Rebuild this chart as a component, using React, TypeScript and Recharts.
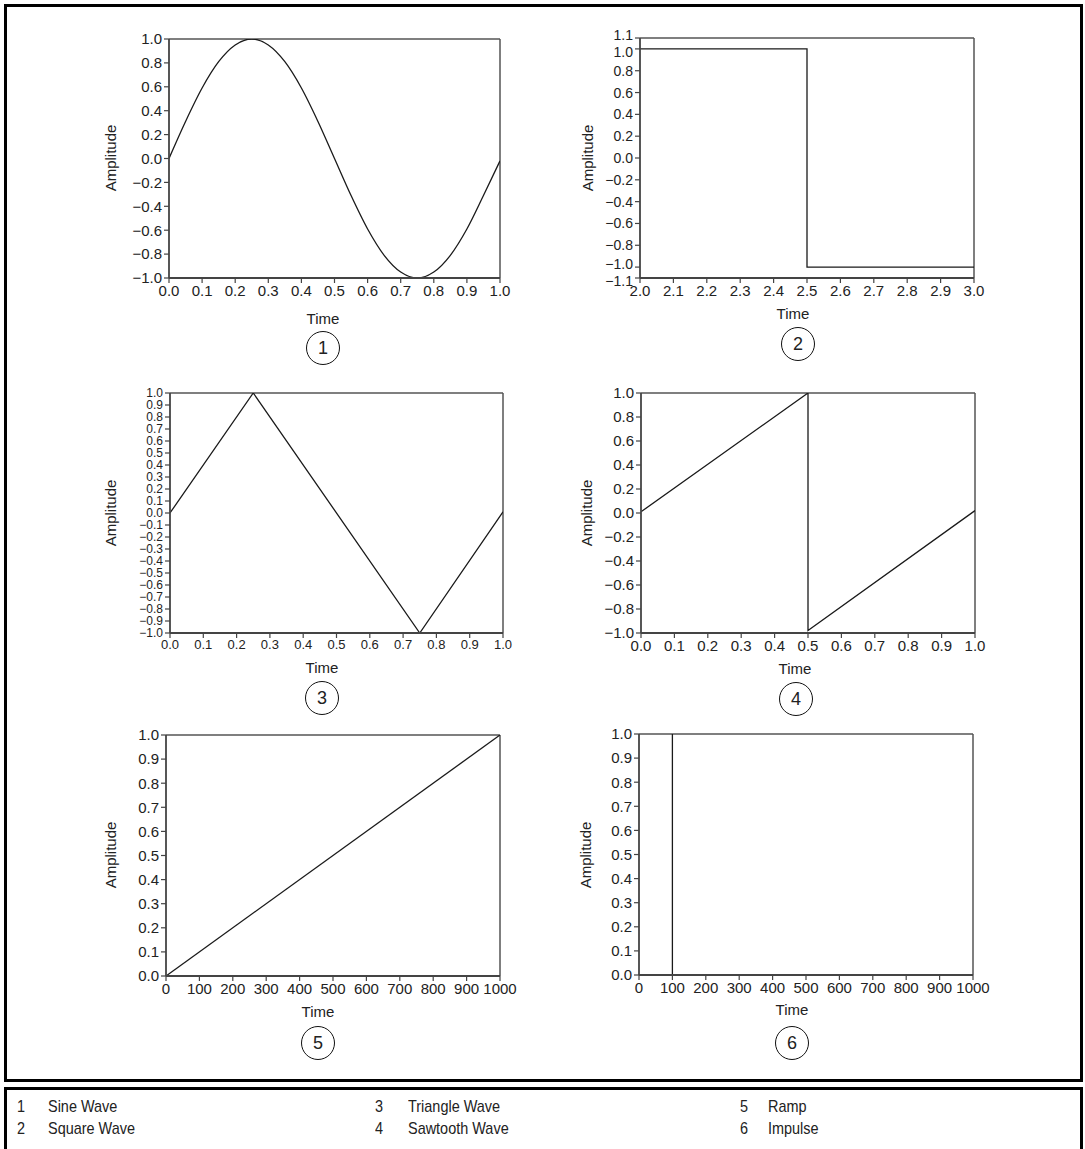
import { LineChart, Line, XAxis, YAxis, ReferenceLine } from "recharts";

// ---- data ----
const sineTime = [0, 0.05, 0.1, 0.15, 0.2, 0.25, 0.3, 0.35, 0.4, 0.45, 0.5, 0.55, 0.6, 0.65, 0.7, 0.75, 0.8, 0.85, 0.9, 0.95, 1.0];
const sineAmp = [0, 0.31, 0.59, 0.81, 0.95, 1.0, 0.95, 0.81, 0.59, 0.31, 0, -0.31, -0.59, -0.81, -0.95, -1.0, -0.95, -0.81, -0.59, -0.31, -0.02];

const squareTime = [2.0, 2.5, 2.5, 3.0];
const squareAmp = [1.0, 1.0, -1.0, -1.0];

const triangleTime = [0, 0.25, 0.75, 1.0];
const triangleAmp = [0, 1.0, -1.0, 0.01];

const sawtoothTime = [0, 0.5, 0.5, 1.0];
const sawtoothAmp = [0.01, 1.0, -0.98, 0.02];

const rampTime = [0, 1000];
const rampAmp = [0, 1.0];

const impulseTime = [0, 100, 100, 100, 1000];
const impulseAmp = [0, 0, 1.0, 0, 0];

const unitTicks = [0, 0.1, 0.2, 0.3, 0.4, 0.5, 0.6, 0.7, 0.8, 0.9, 1.0];
const squareXTicks = [2.0, 2.1, 2.2, 2.3, 2.4, 2.5, 2.6, 2.7, 2.8, 2.9, 3.0];
const thousandTicks = [0, 100, 200, 300, 400, 500, 600, 700, 800, 900, 1000];
const fifthYTicks = [-1.0, -0.8, -0.6, -0.4, -0.2, 0, 0.2, 0.4, 0.6, 0.8, 1.0];
const squareYTicks = [-1.1, -1.0, -0.8, -0.6, -0.4, -0.2, 0, 0.2, 0.4, 0.6, 0.8, 1.0, 1.1];
const tenthYTicks = [-1.0, -0.9, -0.8, -0.7, -0.6, -0.5, -0.4, -0.3, -0.2, -0.1, 0, 0.1, 0.2, 0.3, 0.4, 0.5, 0.6, 0.7, 0.8, 0.9, 1.0];

const legendNumbers = ["1", "2", "3", "4", "5", "6"];
const legendNames = ["Sine Wave", "Square Wave", "Triangle Wave", "Sawtooth Wave", "Ramp", "Impulse"];

const FONT = '"Liberation Sans", Arial, Helvetica, sans-serif';
const INK = "#222";

const toPoints = (t: number[], a: number[]) => t.map((x, i) => ({ t: x, a: a[i] }));

const fmt1 = (v: number) => (v < 0 ? "\u2212" : "") + Math.abs(v).toFixed(1);
const fmt0 = (v: number) => String(v);

// crowded end labels on the square-wave axis are pushed apart a little
const squareLabelNudge: Record<string, number> = { "1.1": -3, "1": 3, "-1": -3, "-1.1": 3 };

const panels = [
  {
    id: "1", data: toPoints(sineTime, sineAmp), curve: "monotone",
    xDomain: [0, 1], xTicks: unitTicks, yDomain: [-1, 1], yTicks: fifthYTicks, xFmt: fmt1,
    box: { left: 169, right: 500, top: 39, bottom: 278 },
    xTitle: [323, 318], yTitle: [110, 158], circle: [323, 348], xFont: 15, yFont: 15,
  },
  {
    id: "2", data: toPoints(squareTime, squareAmp), curve: "linear",
    xDomain: [2, 3], xTicks: squareXTicks, yDomain: [-1.1, 1.1], yTicks: squareYTicks, xFmt: fmt1,
    box: { left: 640, right: 974, top: 38, bottom: 278 },
    xTitle: [793, 313], yTitle: [587, 158], circle: [798, 344], xFont: 15, yFont: 14,
    yNudge: squareLabelNudge,
  },
  {
    id: "3", data: toPoints(triangleTime, triangleAmp), curve: "linear",
    xDomain: [0, 1], xTicks: unitTicks, yDomain: [-1, 1], yTicks: tenthYTicks, xFmt: fmt1,
    box: { left: 170, right: 503, top: 393, bottom: 633 },
    xTitle: [322, 667], yTitle: [110, 513], circle: [322, 698], xFont: 13, yFont: 12,
  },
  {
    id: "4", data: toPoints(sawtoothTime, sawtoothAmp), curve: "linear",
    xDomain: [0, 1], xTicks: unitTicks, yDomain: [-1, 1], yTicks: fifthYTicks, xFmt: fmt1,
    box: { left: 641, right: 975, top: 393, bottom: 633 },
    xTitle: [795, 668], yTitle: [586, 513], circle: [796, 699], xFont: 15, yFont: 15,
  },
  {
    id: "5", data: toPoints(rampTime, rampAmp), curve: "linear",
    xDomain: [0, 1000], xTicks: thousandTicks, yDomain: [0, 1], yTicks: unitTicks, xFmt: fmt0,
    box: { left: 166, right: 500, top: 735, bottom: 976 },
    xTitle: [318, 1011], yTitle: [110, 855], circle: [318, 1043], xFont: 15, yFont: 15,
  },
  {
    id: "6", data: toPoints(impulseTime, impulseAmp), curve: "linear",
    xDomain: [0, 1000], xTicks: thousandTicks, yDomain: [0, 1], yTicks: unitTicks, xFmt: fmt0,
    box: { left: 639, right: 973, top: 734, bottom: 975 },
    xTitle: [792, 1009], yTitle: [585, 855], circle: [792, 1043], xFont: 15, yFont: 15,
  },
];

const Y_AXIS_W = 50;
const M = { top: 12, right: 24, bottom: 36, left: 80 };
const X_AXIS_H = 30;

function WavePanel({ p }: { p: any }) {
  const { left, right, top, bottom } = p.box;
  const svgLeft = left - Y_AXIS_W - M.left;
  const svgTop = top - M.top;
  const width = M.left + Y_AXIS_W + (right - left) + M.right;
  const height = M.top + (bottom - top) + X_AXIS_H + M.bottom;

  const timeTitle = () => (
    <text
      x={p.xTitle[0] - svgLeft}
      y={p.xTitle[1] - svgTop}
      textAnchor="middle"
      dominantBaseline="central"
      fontSize={15}
      fill={INK}
      fontFamily={FONT}
    >
      Time
    </text>
  );
  const ampTitle = () => {
    const cx = p.yTitle[0] - svgLeft;
    const cy = p.yTitle[1] - svgTop;
    return (
      <text
        x={cx}
        y={cy}
        transform={`rotate(-90, ${cx}, ${cy})`}
        textAnchor="middle"
        dominantBaseline="central"
        fontSize={15}
        fill={INK}
        fontFamily={FONT}
      >
        Amplitude
      </text>
    );
  };

  const yTick = p.yNudge
    ? (props: any) => {
        const { x, y, payload } = props;
        const dy = p.yNudge[String(payload.value)] ?? 0;
        return (
          <text
            x={x}
            y={y + dy}
            textAnchor="end"
            dominantBaseline="central"
            fontSize={p.yFont}
            fill={INK}
            fontFamily={FONT}
          >
            {fmt1(payload.value)}
          </text>
        );
      }
    : { fontSize: p.yFont, fill: INK, fontFamily: FONT };

  return (
    <div style={{ position: "absolute", left: svgLeft, top: svgTop }}>
      <LineChart width={width} height={height} data={p.data} margin={M}>
        <XAxis
          dataKey="t"
          type="number"
          domain={p.xDomain}
          ticks={p.xTicks}
          interval={0}
          allowDataOverflow
          height={X_AXIS_H}
          tickSize={5}
          tickFormatter={p.xFmt}
          stroke="#444"
          strokeWidth={1.8}
          tick={{ fontSize: p.xFont, fill: INK, fontFamily: FONT }}
          tickLine={{ stroke: "#444", strokeWidth: 1.2 }}
          label={{ content: timeTitle }}
        />
        <YAxis
          dataKey="a"
          type="number"
          domain={p.yDomain}
          ticks={p.yTicks}
          interval={0}
          allowDataOverflow
          width={Y_AXIS_W}
          tickSize={5}
          tickFormatter={fmt1}
          stroke="#444"
          strokeWidth={1.8}
          tick={yTick}
          tickLine={{ stroke: "#444", strokeWidth: 1.2 }}
          label={{ content: ampTitle }}
        />
        <ReferenceLine y={p.yDomain[1]} stroke="#555" strokeWidth={1.5} />
        <ReferenceLine x={p.xDomain[1]} stroke="#555" strokeWidth={1.5} />
        <Line
          type={p.curve}
          dataKey="a"
          stroke="#1a1a1a"
          strokeWidth={1.3}
          dot={false}
          activeDot={false}
          isAnimationActive={false}
        />
      </LineChart>
    </div>
  );
}

function Badge({ n, at }: { n: string; at: number[] }) {
  return (
    <div
      style={{
        position: "absolute",
        left: at[0] - 17,
        top: at[1] - 17,
        width: 32,
        height: 32,
        border: "1.4px solid #111",
        borderRadius: "50%",
        display: "flex",
        alignItems: "center",
        justifyContent: "center",
        fontSize: 18,
        color: INK,
        fontFamily: FONT,
        lineHeight: 1,
      }}
    >
      {n}
    </div>
  );
}

const legendCols = [
  { num: 17, text: 48 },
  { num: 375, text: 408 },
  { num: 740, text: 768 },
];
const legendRows = [1107, 1129];

const legendText = {
  position: "absolute" as const,
  fontSize: 17,
  color: INK,
  lineHeight: "20px",
  whiteSpace: "nowrap" as const,
  transform: "scaleX(0.85)",
  transformOrigin: "left center",
};

export default function App() {
  return (
    <div
      style={{
        position: "absolute",
        left: 0,
        top: 0,
        width: 1085,
        height: 1149,
        overflow: "hidden",
        background: "#fff",
        fontFamily: FONT,
      }}
    >
      <div
        style={{
          position: "absolute",
          left: 4,
          top: 4,
          width: 1073,
          height: 1072,
          border: "3px solid #000",
        }}
      />
      {panels.map((p) => (
        <WavePanel key={p.id} p={p} />
      ))}
      {panels.map((p) => (
        <Badge key={p.id} n={p.id} at={p.circle} />
      ))}
      <div
        style={{
          position: "absolute",
          left: 4,
          top: 1087,
          width: 1073,
          height: 80,
          border: "3px solid #000",
        }}
      />
      {legendNames.map((name, i) => {
        const col = legendCols[Math.floor(i / 2)];
        const y = legendRows[i % 2];
        return (
          <div key={name}>
            <div style={{ ...legendText, left: col.num, top: y - 10 }}>{legendNumbers[i]}</div>
            <div style={{ ...legendText, left: col.text, top: y - 10 }}>{name}</div>
          </div>
        );
      })}
    </div>
  );
}
